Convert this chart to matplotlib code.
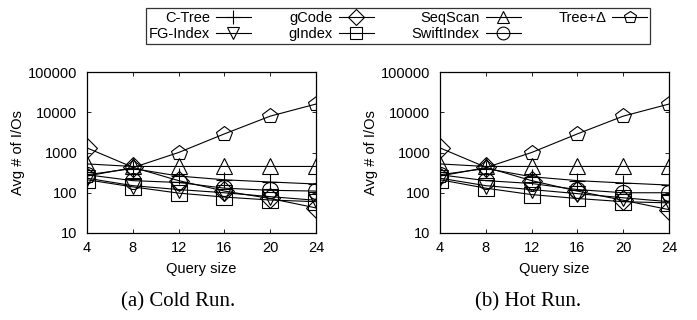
import matplotlib
matplotlib.use("Agg")
import matplotlib.pyplot as plt

plt.rcParams['font.family'] = ['Liberation Sans', 'DejaVu Sans']

query_sizes = [4, 8, 12, 16, 20, 24]
series_names = ["C-Tree", "FG-Index", "gCode", "gIndex", "SeqScan", "SwiftIndex", "Tree+Δ"]
markers = ['+', 'v', 'D', 's', '^', 'o', 'p']

cold_ctree = [280, 400, 260, 210, 185, 165]
cold_fgindex = [230, 150, 120, 100, 80, 65]
cold_gcode = [1300, 430, 200, 110, 72, 42]
cold_gindex = [210, 140, 98, 78, 66, 60]
cold_seqscan = [520, 450, 450, 450, 450, 450]
cold_swift = [280, 200, 180, 130, 115, 110]
cold_treedelta = [260, 420, 1000, 2900, 8000, 16000]

hot_ctree = [280, 400, 250, 200, 175, 155]
hot_fgindex = [230, 150, 120, 95, 75, 60]
hot_gcode = [1300, 430, 200, 110, 65, 38]
hot_gindex = [210, 130, 90, 72, 60, 56]
hot_seqscan = [520, 450, 450, 450, 450, 450]
hot_swift = [280, 200, 170, 120, 100, 100]
hot_treedelta = [260, 420, 1000, 2900, 8000, 16000]

cold = [cold_ctree, cold_fgindex, cold_gcode, cold_gindex, cold_seqscan, cold_swift, cold_treedelta]
hot = [hot_ctree, hot_fgindex, hot_gcode, hot_gindex, hot_seqscan, hot_swift, hot_treedelta]

y_ticks = [10, 100, 1000, 10000, 100000]
captions = ["(a) Cold Run.", "(b) Hot Run."]

W, H = 697, 320
fig = plt.figure(figsize=(W / 100, H / 100), dpi=100)
ax1 = fig.add_axes([87 / W, 1 - 233 / H, 229 / W, 161 / H])
ax2 = fig.add_axes([440 / W, 1 - 233 / H, 229 / W, 161 / H])

fs = 10.5
for ax, data, cap, capx in [(ax1, cold, captions[0], 178), (ax2, hot, captions[1], 528)]:
    for name, mk, vals in zip(series_names, markers, data):
        ms = 12 if mk == '+' else (10 if mk == 'D' else 11.5)
        ax.plot(query_sizes, vals, color='black', lw=0.8, marker=mk, ms=ms,
                mfc='none', mec='black', mew=0.8, label=name)
    ax.set_yscale('log')
    ax.set_ylim(10, 100000)
    ax.set_xlim(4, 24)
    ax.set_xticks(query_sizes)
    ax.set_xticklabels([str(v) for v in query_sizes])
    ax.set_yticks(y_ticks)
    ax.set_yticklabels([str(v) for v in y_ticks])
    ax.minorticks_off()
    ax.tick_params(direction='in', top=True, right=True, labelsize=fs, length=3, width=0.6)
    ax.tick_params(axis='x', pad=6)
    ax.tick_params(axis='y', pad=7)
    for s in ax.spines.values():
        s.set_linewidth(0.9)
    ax.set_xlabel("Query size", fontsize=fs, labelpad=5)
    ax.set_ylabel("Avg # of I/Os", fontsize=fs, labelpad=2)
    fig.text(capx / W, 1 - 302 / H, cap, ha='center', va='center',
             fontsize=15, family=['Liberation Serif', 'DejaVu Serif'])

h, l = ax1.get_legend_handles_labels()
leg = fig.legend(h, l, loc='upper center', bbox_to_anchor=(398 / W, 1 - 1 / H), ncol=4,
                 fontsize=fs, frameon=True, fancybox=False, edgecolor='black',
                 markerfirst=False, handlelength=2.4, columnspacing=2.6,
                 handletextpad=0.4, borderpad=0.2, labelspacing=0.1, markerscale=0.8)
leg.get_frame().set_linewidth(0.9)

fig.savefig("out.png", dpi=100)
